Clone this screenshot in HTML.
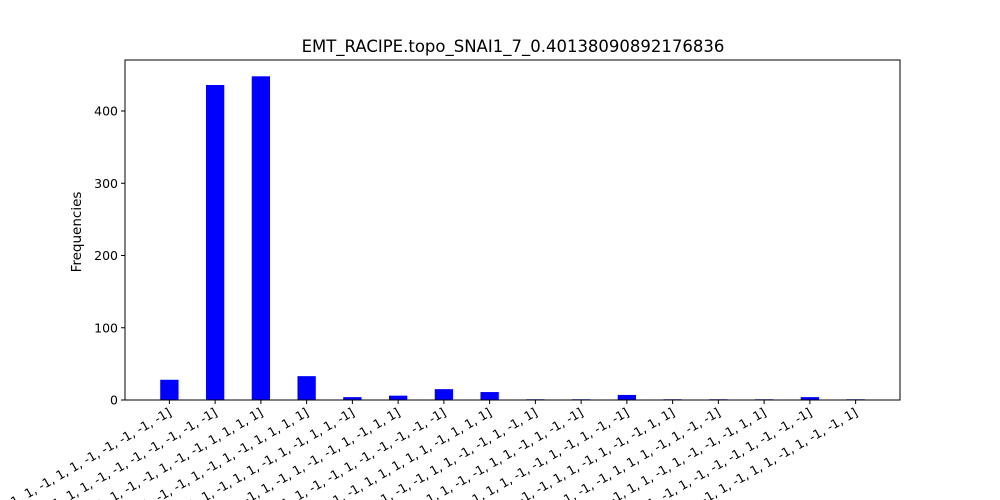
<!DOCTYPE html>
<html><head><meta charset="utf-8"><style>
html,body{margin:0;background:#fff;width:1000px;height:500px;overflow:hidden}
svg{display:block;overflow:hidden;font-family:"DejaVu Sans","Liberation Sans",sans-serif}
</style></head><body>
<svg id="chart" width="1000" height="500" xmlns="http://www.w3.org/2000/svg">
<rect x="0" y="0" width="1000" height="500" fill="#fff"/>
<text x="513" y="52" text-anchor="middle" font-size="16.5" fill="#000">EMT_RACIPE.topo_SNAI1_7_0.40138090892176836</text>
<text transform="translate(81,232) rotate(-90)" text-anchor="middle" font-size="13.5" fill="#000">Frequencies</text>
<g id="bars"></g>
<g id="yticks"></g>
<g id="xticks"></g>
<rect x="125" y="60" width="775" height="340" fill="none" stroke="#000" stroke-width="1"/>
</svg>
<script>
const categories = [
"[1, -1, 1, 1, 1, 1, -1, 1, 1, -1, -1, -1, -1, -1]",
"[-1, 1, -1, 1, -1, 1, 1, -1, -1, -1, -1, -1, -1, -1]",
"[1, 1, -1, -1, 1, -1, -1, 1, -1, -1, 1, 1, 1, 1]",
"[-1, -1, 1, 1, -1, -1, 1, -1, 1, -1, 1, 1, 1, 1]",
"[1, 1, -1, -1, 1, -1, 1, 1, -1, 1, -1, 1, 1, -1]",
"[-1, 1, 1, -1, -1, 1, -1, 1, -1, -1, 1, -1, 1, 1]",
"[1, -1, -1, 1, 1, 1, -1, -1, 1, -1, -1, -1, -1, -1]",
"[-1, 1, 1, -1, -1, 1, 1, 1, 1, 1, -1, 1, 1, 1]",
"[1, -1, 1, -1, 1, -1, -1, 1, 1, -1, -1, 1, -1, 1]",
"[-1, 1, -1, 1, -1, 1, -1, -1, 1, 1, -1, 1, -1, -1]",
"[1, -1, 1, 1, 1, 1, 1, -1, -1, 1, -1, 1, -1, -1]",
"[-1, 1, -1, -1, -1, -1, 1, 1, -1, 1, -1, -1, 1, 1]",
"[1, 1, -1, 1, 1, -1, -1, 1, 1, 1, -1, 1, -1, -1]",
"[-1, -1, 1, -1, -1, 1, 1, -1, 1, -1, -1, -1, 1, 1]",
"[1, 1, -1, -1, 1, -1, 1, -1, -1, -1, 1, -1, -1, -1]",
"[-1, -1, 1, 1, -1, 1, -1, 1, 1, -1, 1, -1, -1, 1]"
];
const values = [28, 436, 448, 33, 4, 6, 15, 11, 1, 1, 7, 1, 1, 1, 4, 1];
const yTicks = [0, 100, 200, 300, 400];
const NS = "http://www.w3.org/2000/svg";
const pLeft = 125, pRight = 900, pTop = 60, pBottom = 400;
const xmin = -0.97, xmax = values.length - 1 + 0.97;
const ymax = 470.6;
const xs = v => pLeft + (v - xmin) / (xmax - xmin) * (pRight - pLeft);
const ys = v => pBottom - v / ymax * (pBottom - pTop);
const bw = 0.4 * (pRight - pLeft) / (xmax - xmin);
const bars = document.getElementById('bars');
values.forEach((v, i) => {
  const r = document.createElementNS(NS, 'rect');
  r.setAttribute('x', xs(i) - bw / 2);
  r.setAttribute('y', ys(v));
  r.setAttribute('width', bw);
  r.setAttribute('height', pBottom - ys(v));
  r.setAttribute('fill', '#0000ff');
  
  
  bars.appendChild(r);
});
const yg = document.getElementById('yticks');
yTicks.forEach(t => {
  const y = ys(t);
  const l = document.createElementNS(NS, 'line');
  l.setAttribute('x1', pLeft - 4); l.setAttribute('x2', pLeft);
  l.setAttribute('y1', y); l.setAttribute('y2', y);
  l.setAttribute('stroke', '#000');
  
  
  yg.appendChild(l);
  const tx = document.createElementNS(NS, 'text');
  tx.setAttribute('x', pLeft - 7); tx.setAttribute('y', y + 4.5);
  tx.setAttribute('text-anchor', 'end'); tx.setAttribute('font-size', '12.5');
  tx.textContent = t;
  
  
  yg.appendChild(tx);
});
const xg = document.getElementById('xticks');
categories.forEach((c, i) => {
  const x = xs(i);
  const l = document.createElementNS(NS, 'line');
  l.setAttribute('x1', x); l.setAttribute('x2', x);
  l.setAttribute('y1', pBottom); l.setAttribute('y2', pBottom + 4);
  l.setAttribute('stroke', '#000');
  
  
  xg.appendChild(l);
  const tx = document.createElementNS(NS, 'text');
  tx.setAttribute('transform', 'translate(' + (x + 3) + ',' + (pBottom + 15) + ') rotate(-30)');
  tx.setAttribute('text-anchor', 'end'); tx.setAttribute('font-size', '12.5');
  tx.textContent = c;
  
  
  xg.appendChild(tx);
});
</script>
</body></html>
